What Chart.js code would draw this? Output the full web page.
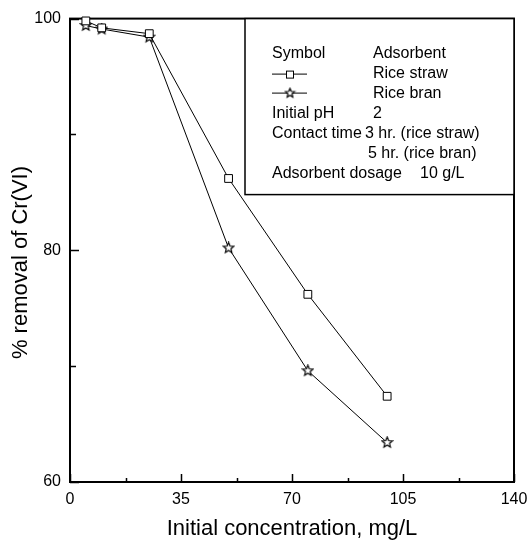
<!DOCTYPE html>
<html>
<head>
<meta charset="utf-8">
<script src="https://cdn.jsdelivr.net/npm/chart.js@4/dist/chart.umd.min.js"></script>
<style>
  html, body { margin: 0; padding: 0; background: #fff; }
  #wrap { width: 531px; height: 542px; }
</style>
</head>
<body>
<div id="wrap"><canvas id="chart" width="531" height="542"></canvas></div>
<script>
// --- DATA ---
const concentrations = [5, 10, 25, 50, 75, 100];          // mg/L
const riceStraw = [99.8, 99.2, 98.7, 86.2, 76.2, 67.4];   // % removal
const riceBran = [99.4, 99.1, 98.4, 80.2, 69.6, 63.4];

const xTickMajors = [0, 35, 70, 105, 140];
const yTickMajors = [60, 80, 100];

const legendRows = [
    ['Symbol', 'Adsorbent'],
    ['', 'Rice straw'],
    ['', 'Rice bran'],
    ['Initial pH', '2'],
    ['Contact time', '3 hr. (rice straw)'],
    ['', '5 hr. (rice bran)'],
    ['Adsorbent dosage', '10 g/L']
];

Chart.defaults.font.family = '"Liberation Sans", Arial, sans-serif';
Chart.defaults.color = '#000';

// outline star used as point marker (Chart.js "star" is an asterisk)
function makeStar(r) {
    const s = 13;
    const c = document.createElement('canvas');
    c.width = s; c.height = s;
    const g = c.getContext('2d');
    g.beginPath();
    for (let i = 0; i < 10; i++) {
        const rad = i % 2 ? r * 0.45 : r;
        const a = -Math.PI / 2 + i * Math.PI / 5;
        g.lineTo(s / 2 + rad * Math.cos(a), s / 2 + rad * Math.sin(a));
    }
    g.closePath();
    g.fillStyle = '#fff';
    g.fill();
    g.strokeStyle = '#000';
    g.lineWidth = 1.2;
    g.stroke();
    return c;
}
const starImg = makeStar(5.5);
const starSmall = makeStar(4.8);

// frame + inward ticks
const framePlugin = {
    id: 'frame',
    beforeDatasetsDraw(chart) {
        const { ctx, chartArea: a, scales } = chart;
        ctx.save();
        ctx.strokeStyle = '#000';
        ctx.lineWidth = 2;
        ctx.strokeRect(a.left, a.top, a.right - a.left, a.bottom - a.top);
        ctx.lineWidth = 1.5;
        ctx.beginPath();
        scales.x.ticks.forEach(t => {
            const px = Math.round(scales.x.getPixelForValue(t.value)) + 0.5;
            const len = xTickMajors.includes(t.value) ? 8 : 4;
            ctx.moveTo(px, a.bottom);
            ctx.lineTo(px, a.bottom - len);
        });
        scales.y.ticks.forEach(t => {
            const py = Math.round(scales.y.getPixelForValue(t.value)) + 0.5;
            const len = yTickMajors.includes(t.value) ? 9 : 6;
            ctx.moveTo(a.left, py);
            ctx.lineTo(a.left + len, py);
        });
        ctx.stroke();
        ctx.restore();
    }
};

// boxed note in the upper right
const notePlugin = {
    id: 'note',
    afterDatasetsDraw(chart) {
        const { ctx, chartArea: a } = chart;
        const left = a.left + 175, top = a.top, right = a.right, bottom = a.top + 176;
        ctx.save();
        ctx.fillStyle = '#fff';
        ctx.fillRect(left, top, right - left, bottom - top);
        ctx.strokeStyle = '#000';
        ctx.lineWidth = 1.5;
        ctx.strokeRect(left, top, right - left, bottom - top);

        ctx.font = '16px "Liberation Sans", Arial, sans-serif';
        ctx.fillStyle = '#000';
        ctx.textBaseline = 'middle';
        const col1 = left + 27;
        const col2 = [128, 128, 128, 128, 120, 123, 175];
        legendRows.forEach((row, i) => {
            const y = top + 35 + i * 20;
            if (row[0]) ctx.fillText(row[0], col1, y);
            ctx.fillText(row[1], left + col2[i], y);
        });

        // symbol samples
        ctx.lineWidth = 1;
        ctx.beginPath();
        ctx.moveTo(col1, top + 55.5); ctx.lineTo(col1 + 35, top + 55.5);
        ctx.moveTo(col1, top + 74.5); ctx.lineTo(col1 + 35, top + 74.5);
        ctx.stroke();
        ctx.fillStyle = '#fff';
        ctx.fillRect(col1 + 14.5, top + 52.5, 7, 7);
        ctx.strokeRect(col1 + 14.5, top + 52.5, 7, 7);
        ctx.drawImage(starSmall, col1 + 18 - 6.5, top + 74.5 - 6.5);
        ctx.restore();
    }
};

const ctx = document.getElementById('chart').getContext('2d');
new Chart(ctx, {
    type: 'line',
    data: {
        datasets: [
            {
                label: 'Rice straw',
                data: concentrations.map((x, i) => ({ x: x, y: riceStraw[i] })),
                borderColor: '#000',
                borderWidth: 1,
                pointStyle: 'rect',
                pointRadius: 5.5,
                pointBorderWidth: 1,
                pointBackgroundColor: '#fff',
                pointBorderColor: '#000',
                clip: false
            },
            {
                label: 'Rice bran',
                data: concentrations.map((x, i) => ({ x: x, y: riceBran[i] })),
                borderColor: '#000',
                borderWidth: 1,
                pointStyle: starImg,
                pointRadius: 5.5,
                clip: false
            }
        ]
    },
    options: {
        responsive: false,
        animation: false,
        layout: { padding: { left: 0, top: 17, right: 17, bottom: 0 } },
        plugins: {
            legend: { display: false },
            tooltip: { enabled: false }
        },
        scales: {
            x: {
                type: 'linear',
                min: 0,
                max: 140,
                grid: { display: false, drawTicks: false },
                border: { display: true, color: '#000', width: 2 },
                ticks: {
                    stepSize: 17.5,
                    autoSkip: false,
                    maxRotation: 0,
                    padding: 8,
                    font: { size: 16 },
                    callback: v => xTickMajors.includes(v) ? v : ''
                },
                title: {
                    display: true,
                    text: 'Initial concentration, mg/L',
                    font: { size: 22 },
                    padding: { top: 0, bottom: 0 }
                },
                afterFit: s => { s.height = 60; s.paddingLeft = 0; s.paddingRight = 0; }
            },
            y: {
                min: 60,
                max: 100,
                grid: { display: false, drawTicks: false },
                border: { display: true, color: '#000', width: 2 },
                ticks: {
                    stepSize: 10,
                    autoSkip: false,
                    padding: 9,
                    font: { size: 16 },
                    callback: v => yTickMajors.includes(v) ? v : ''
                },
                title: {
                    display: true,
                    // trailing spaces nudge the title below the axis centre, as in the source
                    text: '% removal of Cr(VI)    ',
                    font: { size: 22 },
                    padding: { top: 8, bottom: 0 }
                },
                afterFit: s => { s.width = 70; }
            }
        }
    },
    plugins: [framePlugin, notePlugin]
});
</script>
</body>
</html>
